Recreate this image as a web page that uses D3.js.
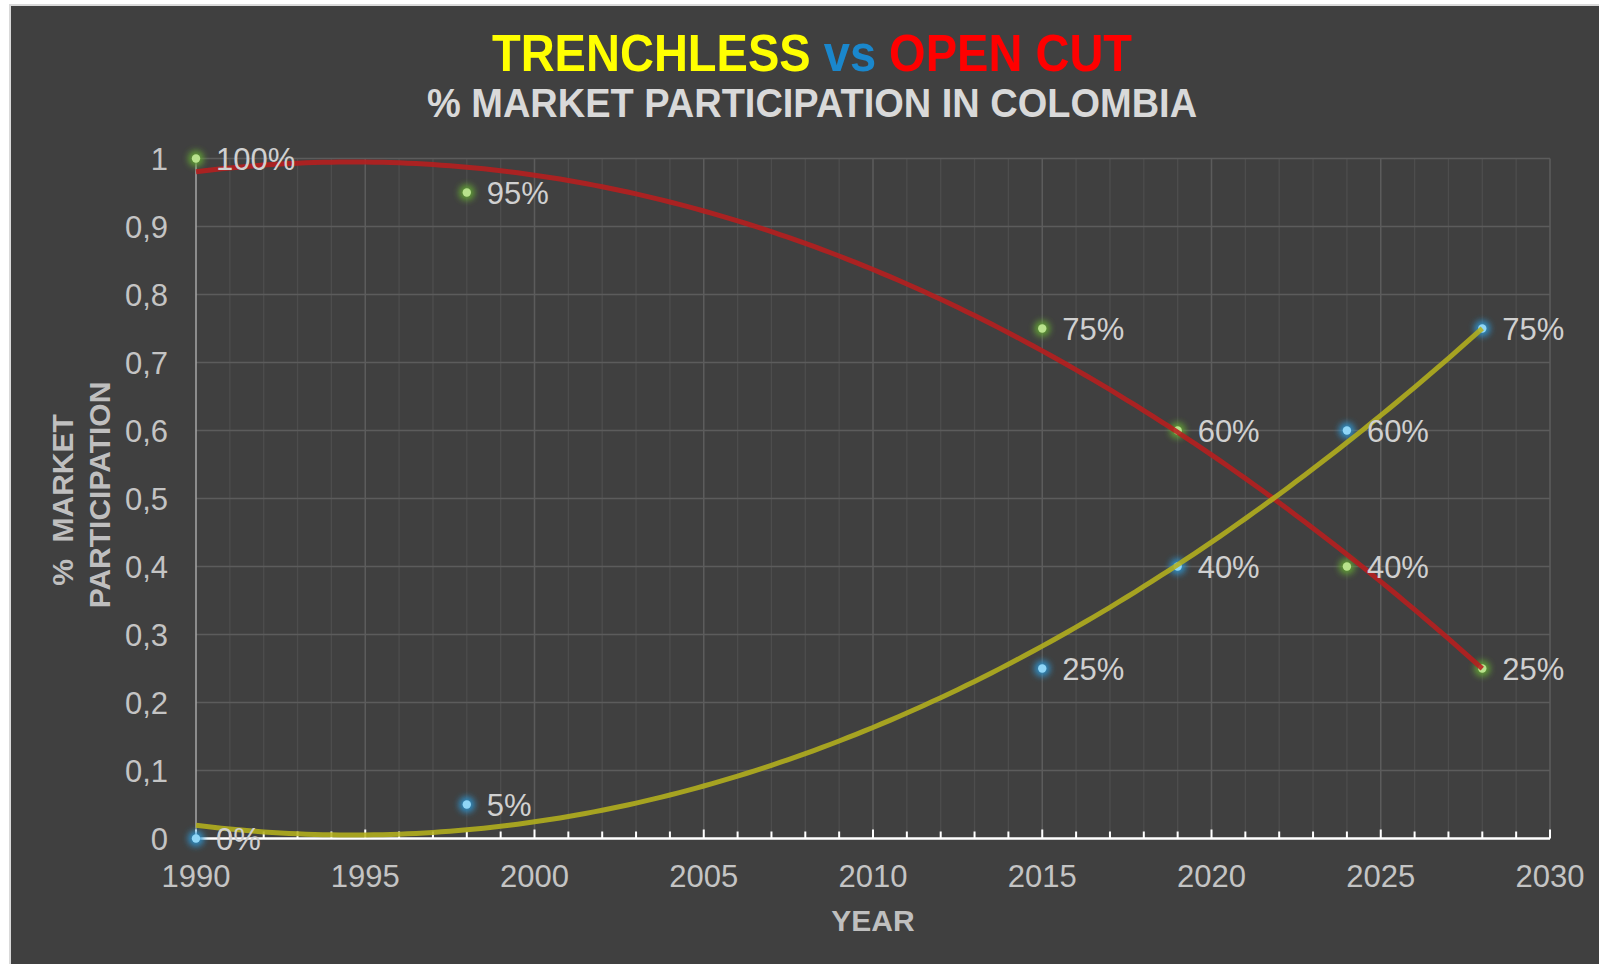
<!DOCTYPE html>
<html>
<head>
<meta charset="utf-8">
<script src="https://cdn.jsdelivr.net/npm/d3@7"></script>
<style>
  html, body { margin: 0; padding: 0; background: #ffffff; }
  svg { display: block; }
  text { font-family: "Liberation Sans", Arial, sans-serif; }
</style>
</head>
<body>
<svg id="chart" width="1599" height="964"></svg>
<script>
// ---- data ----
const years = [1990, 1998, 2015, 2019, 2024, 2028];
const trenchless = [0, 0.05, 0.25, 0.40, 0.60, 0.75];
const openCut = [1.00, 0.95, 0.75, 0.60, 0.40, 0.25];
const trenchlessLabels = ["0%", "5%", "25%", "40%", "60%", "75%"];
const openCutLabels = ["100%", "95%", "75%", "60%", "40%", "25%"];
const xTicks = [1990, 1995, 2000, 2005, 2010, 2015, 2020, 2025, 2030];
const yTicks = [0, 0.1, 0.2, 0.3, 0.4, 0.5, 0.6, 0.7, 0.8, 0.9, 1];
const yTickLabels = ["0", "0,1", "0,2", "0,3", "0,4", "0,5", "0,6", "0,7", "0,8", "0,9", "1"];

// quadratic least-squares trendline (as in the original spreadsheet's polynomial trendline)
function polyFit2(xs, ys) {
  const x0 = xs[0];
  let S = [0,0,0,0,0], T = [0,0,0];
  xs.forEach((xv, i) => {
    const t = xv - x0;
    for (let k = 0; k < 5; k++) S[k] += Math.pow(t, k);
    for (let k = 0; k < 3; k++) T[k] += ys[i] * Math.pow(t, k);
  });
  const A = [[S[0],S[1],S[2],T[0]],[S[1],S[2],S[3],T[1]],[S[2],S[3],S[4],T[2]]];
  for (let c = 0; c < 3; c++) {
    for (let r = c + 1; r < 3; r++) {
      const f = A[r][c] / A[c][c];
      for (let k = c; k < 4; k++) A[r][k] -= f * A[c][k];
    }
  }
  const coef = [0,0,0];
  for (let r = 2; r >= 0; r--) {
    let s = A[r][3];
    for (let k = r + 1; k < 3; k++) s -= A[r][k] * coef[k];
    coef[r] = s / A[r][r];
  }
  return xv => { const t = xv - x0; return coef[0] + coef[1]*t + coef[2]*t*t; };
}

const svg = d3.select("#chart");
const W = 1599, H = 964;

// chart background
svg.append("rect").attr("x", 10).attr("y", 5).attr("width", W).attr("height", H)
  .attr("fill", "#404040").attr("stroke", "#d9d9d9").attr("stroke-width", 2);

const defs = svg.append("defs");
const glow = defs.append("filter").attr("id", "glow").attr("x", "-100%").attr("y", "-100%")
  .attr("width", "300%").attr("height", "300%");
glow.append("feGaussianBlur").attr("stdDeviation", 3);

const x = d3.scaleLinear().domain([1990, 2030]).range([196, 1550]);
const y = d3.scaleLinear().domain([0, 1]).range([838.5, 158.5]);

// gridlines
const g = svg.append("g");
g.selectAll("line.minor").data(d3.range(1991, 2030).filter(v => v % 5 !== 0)).join("line")
  .attr("x1", d => x(d)).attr("x2", d => x(d)).attr("y1", y(1)).attr("y2", y(0))
  .attr("stroke", "#4d4d4d").attr("stroke-width", 1.3);
g.selectAll("line.vmajor").data(xTicks.slice(1)).join("line")
  .attr("x1", d => x(d)).attr("x2", d => x(d)).attr("y1", y(1)).attr("y2", y(0))
  .attr("stroke", "#5c5c5c").attr("stroke-width", 1.5);
g.selectAll("line.hmajor").data(yTicks.slice(1)).join("line")
  .attr("x1", x(1990)).attr("x2", x(2030)).attr("y1", d => y(d)).attr("y2", d => y(d))
  .attr("stroke", "#5c5c5c").attr("stroke-width", 1.5);

// y axis line
svg.append("line").attr("x1", x(1990)).attr("x2", x(1990)).attr("y1", y(1)).attr("y2", y(0))
  .attr("stroke", "#a6a6a6").attr("stroke-width", 1.5);

// x axis with inside ticks
const xAxisG = svg.append("g");
xAxisG.selectAll("line.tk").data(d3.range(1990, 2031)).join("line")
  .attr("x1", d => x(d)).attr("x2", d => x(d)).attr("y1", y(0))
  .attr("y2", d => y(0) - (d % 5 === 0 ? 9 : 7))
  .attr("stroke", "#ffffff").attr("stroke-width", 2);
xAxisG.append("line").attr("x1", x(1990)).attr("x2", x(2030)).attr("y1", y(0)).attr("y2", y(0))
  .attr("stroke", "#ffffff").attr("stroke-width", 2.5);
xAxisG.selectAll("text").data(xTicks).join("text")
  .attr("x", d => x(d)).attr("y", 887).attr("text-anchor", "middle")
  .attr("font-size", 31).attr("fill", "#c4c4c4").text(d => d);

// y tick labels
svg.append("g").selectAll("text").data(yTicks).join("text")
  .attr("x", 168).attr("y", d => y(d)).attr("dy", "0.36em").attr("text-anchor", "end")
  .attr("font-size", 31).attr("fill", "#c4c4c4").text((d, i) => yTickLabels[i]);

// axis titles
svg.append("text").attr("x", 873).attr("y", 931).attr("text-anchor", "middle")
  .attr("font-size", 30).attr("font-weight", "bold").attr("fill", "#bfbfbf").text("YEAR");
svg.append("text").attr("transform", "translate(73,500) rotate(-90)").attr("text-anchor", "middle")
  .attr("font-size", 30).attr("font-weight", "bold").attr("fill", "#bfbfbf")
  .style("white-space", "pre").text("%  MARKET");
svg.append("text").attr("transform", "translate(110,495) rotate(-90)").attr("text-anchor", "middle")
  .attr("font-size", 30).attr("font-weight", "bold").attr("fill", "#bfbfbf").text("PARTICIPATION");

// titles
const t = svg.append("text").attr("transform", "translate(812,71) scale(0.98,1.08)")
  .attr("text-anchor", "middle").attr("font-size", 48).attr("font-weight", "bold");
t.append("tspan").attr("fill", "#ffff00").text("TRENCHLESS");
t.append("tspan").attr("fill", "#1a87cc").text(" vs ");
t.append("tspan").attr("fill", "#ff0000").text("OPEN CUT");
svg.append("text").attr("transform", "translate(812,117) scale(1,1.08)").attr("text-anchor", "middle")
  .attr("font-size", 38).attr("font-weight", "bold").attr("fill", "#d9d9d9")
  .text("% MARKET PARTICIPATION IN COLOMBIA");

// points
function drawPoints(vals, fill, glowColor) {
  const pg = svg.append("g");
  pg.selectAll("circle.glow").data(vals).join("circle")
    .attr("cx", (d, i) => x(years[i])).attr("cy", d => y(d)).attr("r", 8)
    .attr("fill", glowColor).attr("opacity", 0.9).attr("filter", "url(#glow)");
  pg.selectAll("circle.dot").data(vals).join("circle")
    .attr("cx", (d, i) => x(years[i])).attr("cy", d => y(d)).attr("r", 4.2)
    .attr("fill", fill);
}
drawPoints(trenchless, "#8fd6f7", "#2f95d0");
drawPoints(openCut, "#b8e28c", "#64a636");

// trendlines
const fitT = polyFit2(years, trenchless);
const fitO = polyFit2(years, openCut);
const xs = d3.range(1990, 2028.001, 0.25);
const line = f => d3.line().x(d => x(d)).y(d => y(f(d))).curve(d3.curveLinear)(xs);
svg.append("path").attr("d", line(fitO)).attr("fill", "none")
  .attr("stroke", "#b81e1e").attr("stroke-width", 5).attr("opacity", 0.88);
svg.append("path").attr("d", line(fitT)).attr("fill", "none")
  .attr("stroke", "#b4b01c").attr("stroke-width", 5).attr("opacity", 0.88);

// data labels
function drawLabels(vals, labels) {
  svg.append("g").selectAll("text").data(vals).join("text")
    .attr("x", (d, i) => x(years[i]) + 20).attr("y", d => y(d)).attr("dy", "0.38em")
    .attr("font-size", 31).attr("fill", "#d0d0d0").text((d, i) => labels[i]);
}
drawLabels(trenchless, trenchlessLabels);
drawLabels(openCut, openCutLabels);
</script>
</body>
</html>
